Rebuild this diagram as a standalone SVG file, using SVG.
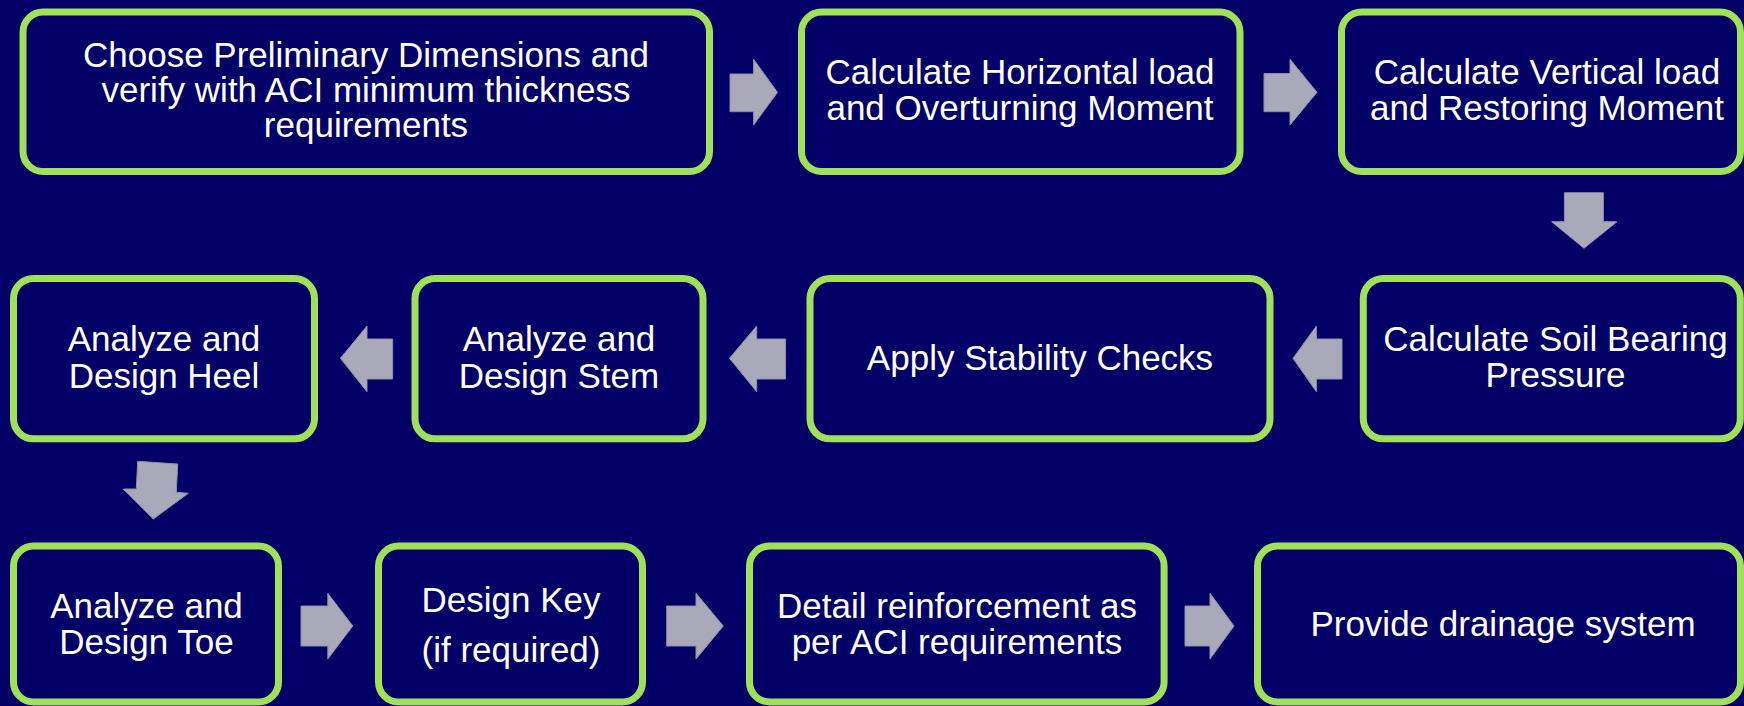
<svg xmlns="http://www.w3.org/2000/svg" width="1744" height="706" viewBox="0 0 1744 706">
<style>
.box{fill:#020066;stroke:#9FE25A;stroke-width:7}
.t{font-family:"Liberation Sans",Arial,sans-serif;font-size:35px;fill:#FFFFFF;text-anchor:middle}
.arr{fill:#A9A9BA;stroke:#8E8EA8;stroke-width:1}
</style>
<rect width="1744" height="706" fill="#020066"/>
<g id="connectors">
<polygon class="arr" points="730,74 753.6,74 753.6,59.3 777.5,92.3 753.6,125 753.6,111.7 730,111.7"/>
<polygon class="arr" points="1264,73.5 1290,73.5 1290,59.3 1317,92.3 1290,125 1290,111.7 1264,111.7"/>
<polygon class="arr" points="1564.4,192.7 1603.4,192.7 1603.4,221.7 1617,221.7 1584,248.3 1551.6,221.7 1564.4,221.7"/>
<polygon class="arr" points="1342,339 1316.4,339 1316.4,326 1293,358.3 1316.4,391.7 1316.4,379 1342,379"/>
<polygon class="arr" points="785.6,339 756.7,339 756.7,326 729.5,358.3 756.7,391.7 756.7,379 785.6,379"/>
<polygon class="arr" points="392.7,339 367,339 367,326 340.4,358.3 367,391.7 367,379 392.7,379"/>
<polygon class="arr" points="137.7,461.3 177.7,464 176.3,492.3 188.3,493.3 153.3,519 123.3,489 136.3,489"/>
<polygon class="arr" points="301,606 327.8,606 327.8,593.3 352.8,626 327.8,659 327.8,646 301,646"/>
<polygon class="arr" points="666.7,606 696,606 696,593.3 723.3,626 696,659 696,646 666.7,646"/>
<polygon class="arr" points="1185,606 1210,606 1210,593.3 1234,626 1210,659 1210,646 1185,646"/>
</g>
<g id="n1"><rect class="box" x="23" y="12" width="686.5" height="159.5" rx="20"/>
<text class="t" x="366" y="67">Choose Preliminary Dimensions and</text>
<text class="t" x="366" y="102">verify with ACI minimum thickness</text>
<text class="t" x="366" y="137">requirements</text></g>
<g id="n2"><rect class="box" x="801.5" y="12" width="438.5" height="159.5" rx="20"/>
<text class="t" x="1020" y="83.5">Calculate Horizontal load</text>
<text class="t" x="1020" y="119.5">and Overturning Moment</text></g>
<g id="n3"><rect class="box" x="1341.5" y="12" width="399" height="159.5" rx="20"/>
<text class="t" x="1547" y="83.5">Calculate Vertical load</text>
<text class="t" x="1547" y="119.5">and Restoring Moment</text></g>
<g id="n4"><rect class="box" x="1363.3" y="278.5" width="377" height="160.3" rx="20"/>
<text class="t" x="1555.5" y="351">Calculate Soil Bearing</text>
<text class="t" x="1555.5" y="387">Pressure</text></g>
<g id="n5"><rect class="box" x="810" y="278.5" width="460" height="160.3" rx="20"/>
<text class="t" x="1040" y="369.5">Apply Stability Checks</text></g>
<g id="n6"><rect class="box" x="415" y="278.5" width="288" height="160.3" rx="20"/>
<text class="t" x="559" y="351">Analyze and</text>
<text class="t" x="559" y="387.5">Design Stem</text></g>
<g id="n7"><rect class="box" x="13.5" y="278.5" width="301" height="160.3" rx="20"/>
<text class="t" x="164" y="351">Analyze and</text>
<text class="t" x="164" y="387.5">Design Heel</text></g>
<g id="n8"><rect class="box" x="13.5" y="546" width="265" height="156" rx="20"/>
<text class="t" x="146.5" y="618.3">Analyze and</text>
<text class="t" x="146.5" y="654.3">Design Toe</text></g>
<g id="n9"><rect class="box" x="378.5" y="546" width="264" height="156" rx="20"/>
<text class="t" x="511" y="611.7">Design Key</text>
<text class="t" x="511" y="662.3">(if required)</text></g>
<g id="n10"><rect class="box" x="749.5" y="546" width="414.6" height="156" rx="20"/>
<text class="t" x="957" y="618.3">Detail reinforcement as</text>
<text class="t" x="957" y="654.3">per ACI requirements</text></g>
<g id="n11"><rect class="box" x="1257.5" y="546" width="483" height="156" rx="20"/>
<text class="t" x="1503" y="636">Provide drainage system</text></g>
</svg>
